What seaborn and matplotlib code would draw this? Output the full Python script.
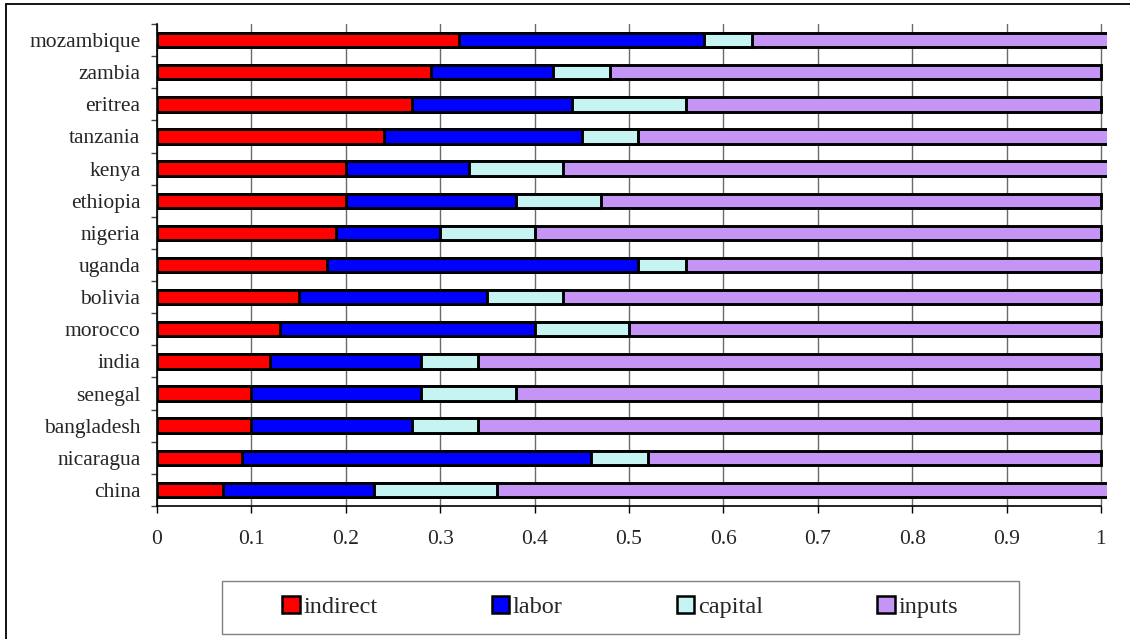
import numpy as np
import pandas as pd
import matplotlib
matplotlib.use("Agg")
import matplotlib.pyplot as plt
import seaborn as sns
from matplotlib.patches import Patch, Rectangle

countries = ["mozambique", "zambia", "eritrea", "tanzania", "kenya", "ethiopia",
             "nigeria", "uganda", "bolivia", "morocco", "india", "senegal",
             "bangladesh", "nicaragua", "china"]
indirect = [0.32, 0.29, 0.27, 0.24, 0.20, 0.20, 0.19, 0.18, 0.15, 0.13, 0.12, 0.10, 0.10, 0.09, 0.07]
labor    = [0.26, 0.13, 0.17, 0.21, 0.13, 0.18, 0.11, 0.33, 0.20, 0.27, 0.16, 0.18, 0.17, 0.37, 0.16]
capital  = [0.05, 0.06, 0.12, 0.06, 0.10, 0.09, 0.10, 0.05, 0.08, 0.10, 0.06, 0.10, 0.07, 0.06, 0.13]
inputs   = [0.38, 0.52, 0.44, 0.50, 0.58, 0.53, 0.60, 0.44, 0.57, 0.50, 0.66, 0.62, 0.66, 0.48, 0.65]

SERIES = ["indirect", "labor", "capital", "inputs"]
COLORS = ["#FF0000", "#0000FF", "#C6F4F2", "#C495F4"]

df = pd.DataFrame({"country": countries, "indirect": indirect, "labor": labor,
                   "capital": capital, "inputs": inputs})
cum = df[SERIES].cumsum(axis=1)
cum["country"] = df["country"]

sns.set_style("white")
plt.rcParams["font.family"] = ["Liberation Serif", "DejaVu Serif"]

fig = plt.figure(figsize=(11.3, 6.39), dpi=100)
ax = fig.add_axes([157 / 1130, 1 - 506 / 639, (1107 - 157) / 1130, (506 - 24) / 639])

# stacked bars: draw cumulative totals from the longest to the shortest
for name, col in zip(SERIES[::-1], COLORS[::-1]):
    sns.barplot(data=cum, y="country", x=name, order=countries, color=col,
                edgecolor="black", linewidth=2.1, width=0.45, orient="h",
                saturation=1, ax=ax, zorder=3)

ax.set_xlim(0, 1.0064)
ax.set_ylim(14.5, -0.5)
ax.set_xticks(np.arange(0, 1.01, 0.1))
ax.set_xticklabels(["0"] + [f"{v:.1f}" for v in np.arange(0.1, 0.95, 0.1)] + ["1"])
ax.set_xlabel("")
ax.set_ylabel("")
ax.xaxis.grid(True, color="#6a6a6a", linewidth=1.0, zorder=0)
ax.set_axisbelow(True)

for s in ["top", "right"]:
    ax.spines[s].set_visible(False)
ax.spines["bottom"].set_bounds(0, 1)
for s in ["left", "bottom"]:
    ax.spines[s].set_color("black")
    ax.spines[s].set_linewidth(1.2)

ax.tick_params(axis="x", which="major", direction="out", length=5, width=1.0,
               color="black", pad=12, labelsize=15.5, bottom=True)
ax.tick_params(axis="y", which="major", length=0, pad=12, labelsize=15.5)
ax.set_yticks(np.arange(-0.5, 15, 1.0), minor=True)
ax.tick_params(axis="y", which="minor", direction="out", length=4.5, width=1.0,
               color="#444444", left=True)

handles = [Patch(facecolor=c, edgecolor="black", linewidth=1.8, label=n)
           for n, c in zip(SERIES, COLORS)]
leg = fig.legend(handles=handles, loc="center", bbox_to_anchor=(620 / 1130, 1 - 607 / 639),
                 ncol=4, frameon=False, fontsize=17.5,
                 handlelength=0.72, handleheight=0.72, handletextpad=0.15,
                 columnspacing=4.7, borderpad=0.75, borderaxespad=0)

# legend frame (wider than matplotlib's padding allows)
fig.patches.append(Rectangle((222 / 1130, 1 - 634 / 639), (1019 - 222) / 1130, 53 / 639,
                             transform=fig.transFigure, fill=False,
                             edgecolor="#808080", linewidth=1.0))

# outer chart border
fig.patches.append(Rectangle((6 / 1130, -0.05), 1.2, 0.05 + 1 - 4 / 639,
                             transform=fig.transFigure, fill=False,
                             edgecolor="black", linewidth=1.3))

fig.savefig("out.png", dpi=100)
